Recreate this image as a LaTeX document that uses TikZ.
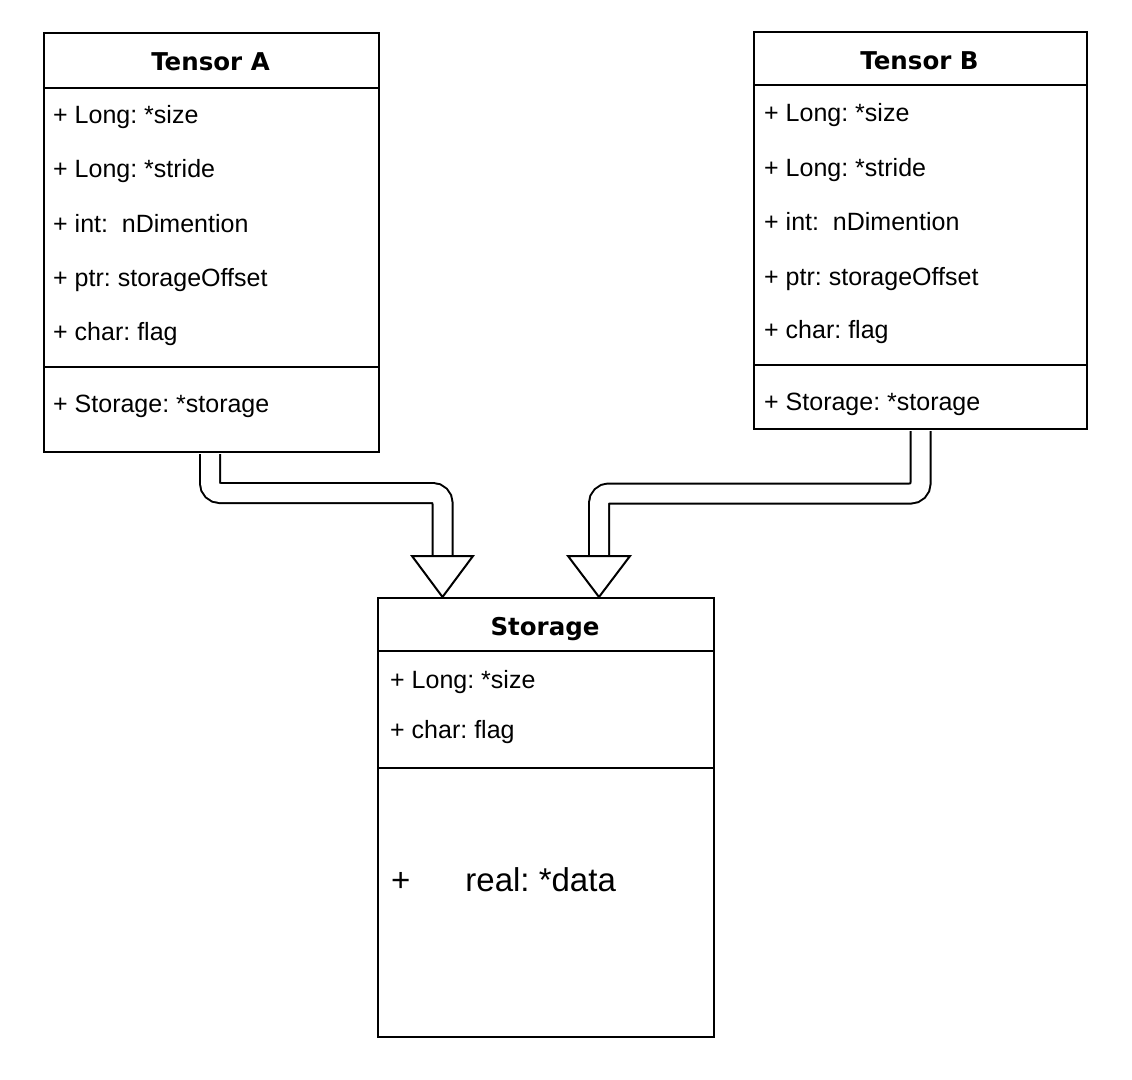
\documentclass[tikz,border=0pt]{standalone}
\usepackage{fontspec}
\setmainfont{Liberation Sans}
\newfontfamily\headfont{DejaVu Sans}
\usepackage{tikz}
\usetikzlibrary{calc}
\frenchspacing
\tikzset{
  umlbox/.style={draw, line width=2pt, anchor=north west, inner sep=0pt},
  field/.style={anchor=base west, inner sep=0pt, font=\fontsize{25}{30}\selectfont},
  title/.style={anchor=base, inner sep=0pt, font=\headfont\bfseries\fontsize{24.5}{30}\selectfont},
  shaft/.style={line width=2pt, double=white, double distance=18pt, rounded corners=10pt},
  hollowhead/.style={draw, line width=2pt, fill=white, line join=miter},
}

\begin{document}
\begin{tikzpicture}[x=1pt, y=-1pt]
    \path[use as bounding box] (0, 0) rectangle (1132, 1079);

    \node[umlbox, minimum width=335pt, minimum height=419pt] at (43, 32) (TA) {};
    \node[umlbox, minimum width=333pt, minimum height=397pt] at (753, 31) (TB) {};
    \node[umlbox, minimum width=336pt, minimum height=439pt] at (377, 597) (ST) {};

    % compartments
    \draw[line width=2pt] ($(TA.north west)+(0,56)$) -- ($(TA.north east)+(0,56)$);
    \draw[line width=2pt] ($(TA.north west)+(0,335)$) -- ($(TA.north east)+(0,335)$);
    \draw[line width=2pt] ($(TB.north west)+(0,54)$) -- ($(TB.north east)+(0,54)$);
    \draw[line width=2pt] ($(TB.north west)+(0,334)$) -- ($(TB.north east)+(0,334)$);
    \draw[line width=2pt] ($(ST.north west)+(0,54)$) -- ($(ST.north east)+(0,54)$);
    \draw[line width=2pt] ($(ST.north west)+(0,171)$) -- ($(ST.north east)+(0,171)$);

    \node[title] at (210.5, 70) (TAname) {Tensor A};
    \node[field] at (53, 123)   (TA1) {+ Long: *size};
    \node[field] at (53, 177.5) (TA2) {+ Long: *stride};
    \node[field] at (53, 232)   (TA3) {+ int:\ \ nDimention};
    \node[field] at (53, 286.5) (TA4) {+ ptr: storageOffset};
    \node[field] at (53, 340)   (TA5) {+ char: flag};
    \node[field] at (53, 412)   (TA6) {+ Storage: *storage};

    \node[title] at (919.5, 69) (TBname) {Tensor B};
    \node[field] at (764, 121.5) (TB1) {+ Long: *size};
    \node[field] at (764, 176)   (TB2) {+ Long: *stride};
    \node[field] at (764, 230.5) (TB3) {+ int:\ \ nDimention};
    \node[field] at (764, 285)   (TB4) {+ ptr: storageOffset};
    \node[field] at (764, 338.5) (TB5) {+ char: flag};
    \node[field] at (764, 410)   (TB6) {+ Storage: *storage};

    \node[title] at (545, 635) (STname) {Storage};
    \node[field] at (390, 688) (ST1) {+ Long: *size};
    \node[field] at (390, 738) (ST2) {+ char: flag};
    \node[field, font=\fontsize{33}{40}\selectfont] at (391, 891) (ST3) {+\hspace{55pt}real: *data};

    % hollow arrows into Storage
    \coordinate (startA) at ($(TA.south west)+(167,1)$);
    \coordinate (tipA) at ($(ST.north west)+(65.5,0)$);
    \coordinate (headA) at ($(tipA)+(0,-41)$);
    \draw[shaft] (startA) |- ($(headA)+(0,-63)$) -- (headA);
    \draw[hollowhead] ($(headA)+(-30.5,0)$) -- (tipA) -- ($(headA)+(30.5,0)$) -- cycle;

    \coordinate (startB) at ($(TB.south west)+(167.5,1)$);
    \coordinate (tipB) at ($(ST.north west)+(222,0)$);
    \coordinate (headB) at ($(tipB)+(0,-41)$);
    \draw[shaft] (startB) |- ($(headB)+(0,-62.5)$) -- (headB);
    \draw[hollowhead] ($(headB)+(-31,0)$) -- (tipB) -- ($(headB)+(31,0)$) -- cycle;
\end{tikzpicture}
\end{document}
